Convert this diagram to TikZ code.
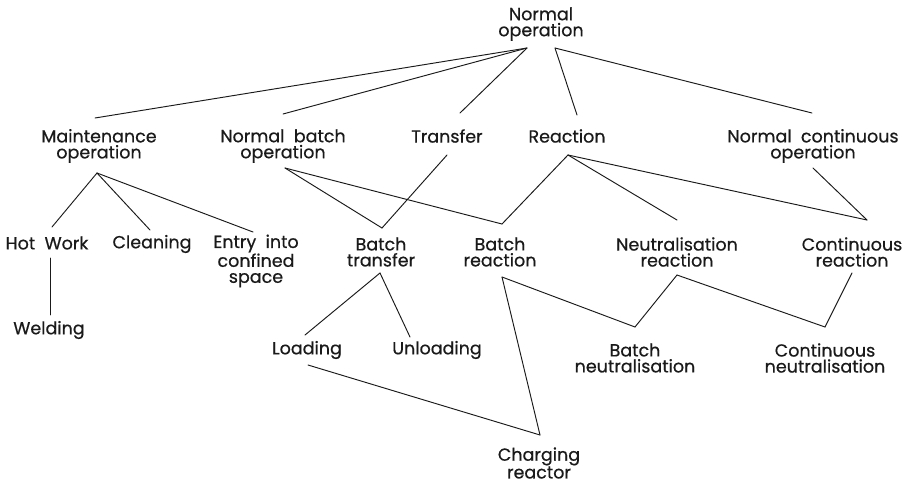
\documentclass[tikz,border=0pt]{standalone}
\usepackage{fontspec}
\setmainfont{Poppins}
\newfontfamily\lblfont{Poppins}[FakeBold=0.6]
\definecolor{ink}{HTML}{1A1A1A}
\begin{document}
\begin{tikzpicture}[x=1pt,y=-1pt,
  lbl/.style={inner sep=0pt, align=center, text=ink,
    font=\lblfont\fontsize{17.5}{16}\selectfont},
  link/.style={draw=ink, line width=0.95pt, line cap=round}]
\useasboundingbox (0,0) rectangle (910,483);

% level 0
\node[lbl] (no) at (541,24) {Normal\\operation};
% level 1
\node[lbl] (mo) at (99,146)  {Maintenance\\operation};
\node[lbl] (nb) at (283,146) {Normal~ batch\\operation};
\node[lbl] (tr) at (447,136) {Transfer};
\node[lbl] (re) at (567,136) {Reaction};
\node[lbl] (nc) at (813,146) {Normal~ continuous\\operation};
% level 2
\node[lbl] (hw) at (47,243)  {Hot~ Work};
\node[lbl] (cl) at (152,244) {Cleaning};
\node[lbl] (en) at (256,261) {Entry~ into\\confined\\space};
\node[lbl] (bt) at (381,252) {Batch\\transfer};
\node[lbl] (br) at (500,252) {Batch\\reaction};
\node[lbl] (nr) at (677,252) {Neutralisation\\reaction};
\node[lbl] (cr) at (852,252) {Continuous\\reaction};
% level 3
\node[lbl] (we) at (49,330)  {Welding};
\node[lbl] (lo) at (307,350) {Loading};
\node[lbl] (un) at (437,350) {Unloading};
\node[lbl] (bn) at (635,358) {Batch\\neutralisation};
\node[lbl] (cn) at (825,358) {Continuous\\neutralisation};
% level 4
\node[lbl] (ch) at (539,463) {Charging\\reactor};

% from normal operation
\draw[link] ([shift={(-14,24)}]no.center) -- ([shift={(-4,-28)}]mo.center);
\draw[link] ([shift={(-14,24)}]no.center) -- ([shift={(0,-32)}]nb.center);
\draw[link] ([shift={(-14,24)}]no.center) -- ([shift={(13,-23)}]tr.center);
\draw[link] ([shift={(14,24)}]no.center) -- ([shift={(10,-21)}]re.center);
\draw[link] ([shift={(14,24)}]no.center) -- ([shift={(-1,-33)}]nc.center);
% maintenance branch
\draw[link] ([shift={(-2,27)}]mo.center) -- ([shift={(5,-16)}]hw.center);
\draw[link] ([shift={(-2,27)}]mo.center) -- ([shift={(-2,-14)}]cl.center);
\draw[link] ([shift={(-2,27)}]mo.center) -- ([shift={(-3,-29)}]en.center);
\draw[link] ([shift={(3,15)}]hw.center) -- ([shift={(1,-15)}]we.center);
% batch branch
\draw[link] ([shift={(2,22)}]nb.center) -- ([shift={(1,-24)}]bt.center);
\draw[link] ([shift={(2,22)}]nb.center) -- ([shift={(2,-28)}]br.center);
\draw[link] ([shift={(0,19)}]tr.center) -- ([shift={(1,-24)}]bt.center);
\draw[link] ([shift={(-1,21)}]bt.center) -- ([shift={(-2,-15)}]lo.center);
\draw[link] ([shift={(-1,21)}]bt.center) -- ([shift={(-27,-13)}]un.center);
% reaction branch
\draw[link] ([shift={(1,19)}]re.center) -- ([shift={(2,-28)}]br.center);
\draw[link] ([shift={(1,19)}]re.center) -- ([shift={(0,-32)}]nr.center);
\draw[link] ([shift={(1,19)}]re.center) -- ([shift={(15,-32)}]cr.center);
\draw[link] ([shift={(0,22)}]nc.center) -- ([shift={(15,-32)}]cr.center);
% neutralisation
\draw[link] ([shift={(2,25)}]br.center) -- ([shift={(0,-31)}]bn.center);
\draw[link] ([shift={(0,23)}]nr.center) -- ([shift={(0,-31)}]bn.center);
\draw[link] ([shift={(0,23)}]nr.center) -- ([shift={(0,-31)}]cn.center);
\draw[link] ([shift={(0,21)}]cr.center) -- ([shift={(0,-31)}]cn.center);
% charging
\draw[link] ([shift={(2,25)}]br.center) -- ([shift={(1,-28)}]ch.center);
\draw[link] ([shift={(1,15)}]lo.center) -- ([shift={(1,-28)}]ch.center);
\end{tikzpicture}
\end{document}
